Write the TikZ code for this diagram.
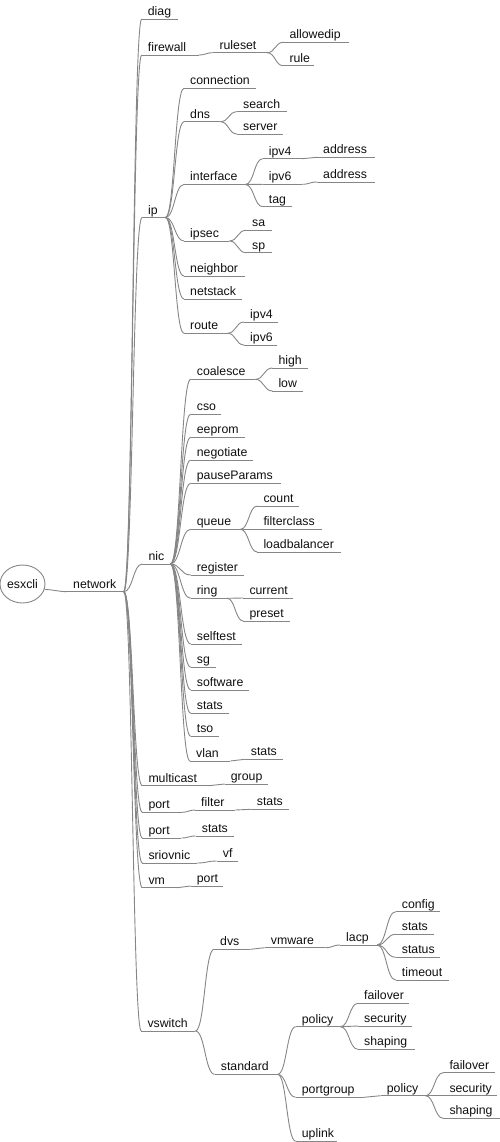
\documentclass[tikz,border=0pt]{standalone}
\usepackage{fontspec}
\setmainfont{Liberation Sans}
\usepackage{tikz}
\usetikzlibrary{shapes.geometric,calc}

\definecolor{linegray}{RGB}{134,134,134}
\definecolor{textdark}{RGB}{15,15,15}

\tikzset{
  branch/.style={draw=linegray, line width=0.9pt},
  topic/.style={anchor=south west, inner xsep=0pt, inner ysep=3.3pt, text depth=0pt,
    align=left, text=textdark, font=\fontsize{12.3}{14}\selectfont},
  rootnode/.style={ellipse, draw=linegray, line width=0.9pt, minimum width=45pt,
    minimum height=38pt, inner sep=0pt, text=textdark, font=\fontsize{12.3}{14}\selectfont}
}

% topic with underline: name, text x, line end, line y, text
\def\topicpad{6}
\newcommand{\topic}[5]{%
  \pgfmathsetmacro{\topicw}{#3-#2+\topicpad}%
  \node[topic, text width=\topicw pt] (#1) at (#2-\topicpad,#4) {\hspace*{\topicpad pt}\mbox{#5}};
  \draw[branch] (#1.south west) -- (#1.south east);}

% curved connector from parent end to child start
\newcommand{\link}[2]{%
  \draw[branch] (#1.south east) .. controls ($(#1.south east)!0.5!(#2.south west |- #1.south east)$)
    and ($(#2.south west)!0.5!(#1.south east |- #2.south west)$) .. (#2.south west);}

\begin{document}
\begin{tikzpicture}[x=1pt,y=-1pt]
    \useasboundingbox (0,0) rectangle (500,1142);

    \node[rootnode] (root) at (22.5,584) {esxcli};
    \topic{network}{73}{123.3}{591.7}{network}
    \draw[branch] (root.-14) .. controls +(8,0) and +(-8,0) .. (network.south west);

    % first level
    \topic{diag}{147.7}{177.3}{19}{diag}
    \topic{fw}{147.7}{198.3}{55}{firewall}
    \topic{ip}{148}{165}{217.5}{ip}
    \topic{nic}{148.3}{170}{564}{nic}
    \topic{mc}{148.3}{208.3}{785.7}{multicast}
    \topic{port1}{148.3}{181.7}{812.3}{port}
    \topic{port2}{148.3}{181}{838}{port}
    \topic{sriov}{148.3}{196.7}{863}{sriovnic}
    \topic{vm}{148.3}{176.7}{887.7}{vm}
    \topic{vsw}{147.3}{195}{1031}{vswitch}

    % firewall
    \topic{fw-ruleset}{219.3}{266.7}{52.7}{ruleset}
    \topic{fw-allowedip}{289.3}{348.3}{42.3}{allowedip}
    \topic{fw-rule}{289.3}{313.3}{65.7}{rule}

    % ip
    \topic{ip-conn}{190}{256}{88.3}{connection}
    \topic{ip-dns}{190}{220}{121.7}{dns}
    \topic{dns-search}{243}{287}{111.7}{search}
    \topic{dns-server}{243}{283}{134}{server}
    \topic{ip-iface}{190}{245}{184.5}{interface}
    \topic{if-ipv4}{268.7}{301.7}{158.7}{ipv4}
    \topic{if-ipv4-addr}{323}{375}{157.3}{address}
    \topic{if-ipv6}{268.7}{301.7}{184.3}{ipv6}
    \topic{if-ipv6-addr}{323}{375}{182}{address}
    \topic{if-tag}{268.7}{291.7}{206.7}{tag}
    \topic{ip-ipsec}{190}{229}{241}{ipsec}
    \topic{ipsec-sa}{252}{271.7}{230.3}{sa}
    \topic{ipsec-sp}{252}{271.7}{252.7}{sp}
    \topic{ip-neighbor}{190}{245}{276}{neighbor}
    \topic{ip-netstack}{190}{241.7}{299}{netstack}
    \topic{ip-route}{190}{227.3}{333.3}{route}
    \topic{route-ipv4}{250}{277.3}{322}{ipv4}
    \topic{route-ipv6}{250}{277}{345}{ipv6}

    % nic
    \topic{nic-coalesce}{196.7}{255}{379.3}{coalesce}
    \topic{co-high}{278.3}{307.7}{368}{high}
    \topic{co-low}{278.3}{302.7}{391}{low}
    \topic{nic-cso}{196.7}{221}{414}{cso}
    \topic{nic-eeprom}{196.7}{245}{437.3}{eeprom}
    \topic{nic-negotiate}{196.7}{252.7}{460}{negotiate}
    \topic{nic-pause}{196.7}{280.7}{483.3}{pauseParams}
    \topic{nic-queue}{196.7}{240}{529.3}{queue}
    \topic{q-count}{263.3}{299}{506}{count}
    \topic{q-filter}{263.3}{321.7}{529.3}{filterclass}
    \topic{q-lb}{263.3}{340.7}{552}{loadbalancer}
    \topic{nic-register}{196.7}{244}{575}{register}
    \topic{nic-ring}{196.7}{226.7}{598.3}{ring}
    \topic{ring-current}{249.3}{292.7}{598}{current}
    \topic{ring-preset}{249.3}{289.3}{621}{preset}
    \topic{nic-selftest}{196.7}{241.7}{644}{selftest}
    \topic{nic-sg}{196.7}{216}{667.3}{sg}
    \topic{nic-software}{196.7}{249}{690}{software}
    \topic{nic-stats}{196.7}{229}{713.3}{stats}
    \topic{nic-tso}{196.7}{219}{736.3}{tso}
    \topic{nic-vlan}{196}{230}{761}{vlan}
    \topic{vlan-stats}{250.7}{282.7}{759.3}{stats}

    % multicast, port, sriovnic, vm
    \topic{mc-group}{230.7}{267.7}{784}{group}
    \topic{p1-filter}{201}{235}{810}{filter}
    \topic{p1-stats}{256.7}{289}{809.3}{stats}
    \topic{p2-stats}{201.7}{234}{836}{stats}
    \topic{sriov-vf}{222.7}{237.7}{861}{vf}
    \topic{vm-port}{196.7}{222.7}{886}{port}

    % vswitch
    \topic{vsw-dvs}{220}{250}{949.3}{dvs}
    \topic{dvs-vmw}{270.7}{325}{947.7}{vmware}
    \topic{vmw-lacp}{346}{376.7}{945}{lacp}
    \topic{lacp-config}{401.7}{439.3}{911.7}{config}
    \topic{lacp-stats}{401.7}{433.3}{934.3}{stats}
    \topic{lacp-status}{401.7}{440}{957.3}{status}
    \topic{lacp-timeout}{401.7}{448.3}{980}{timeout}
    \topic{vsw-std}{220.7}{277.3}{1074.3}{standard}
    \topic{std-policy}{301.7}{340}{1026.7}{policy}
    \topic{pol-failover}{364}{408.3}{1003.3}{failover}
    \topic{pol-security}{364}{411.7}{1026}{security}
    \topic{pol-shaping}{364}{415}{1049.3}{shaping}
    \topic{std-pg}{301.7}{363.3}{1097.3}{portgroup}
    \topic{pg-policy}{386.7}{425}{1095.7}{policy}
    \topic{pgp-failover}{449.3}{495}{1072.7}{failover}
    \topic{pgp-security}{449.3}{496.7}{1095.7}{security}
    \topic{pgp-shaping}{449.3}{500}{1118.3}{shaping}
    \topic{std-uplink}{301.7}{336.7}{1141.2}{uplink}

    % connectors
    \foreach \from/\to in {network/diag, network/fw, network/ip, network/nic, network/mc,
        network/port1, network/port2, network/sriov, network/vm, network/vsw,
        fw/fw-ruleset, fw-ruleset/fw-allowedip, fw-ruleset/fw-rule,
        ip/ip-conn, ip/ip-dns, ip/ip-iface, ip/ip-ipsec, ip/ip-neighbor, ip/ip-netstack, ip/ip-route,
        ip-dns/dns-search, ip-dns/dns-server,
        ip-iface/if-ipv4, ip-iface/if-ipv6, ip-iface/if-tag,
        if-ipv4/if-ipv4-addr, if-ipv6/if-ipv6-addr,
        ip-ipsec/ipsec-sa, ip-ipsec/ipsec-sp, ip-route/route-ipv4, ip-route/route-ipv6}
      {\link{\from}{\to}}
    \foreach \from/\to in {nic/nic-coalesce, nic/nic-cso, nic/nic-eeprom, nic/nic-negotiate,
        nic/nic-pause, nic/nic-queue, nic/nic-register, nic/nic-ring, nic/nic-selftest,
        nic/nic-sg, nic/nic-software, nic/nic-stats, nic/nic-tso, nic/nic-vlan,
        nic-coalesce/co-high, nic-coalesce/co-low,
        nic-queue/q-count, nic-queue/q-filter, nic-queue/q-lb,
        nic-ring/ring-current, nic-ring/ring-preset, nic-vlan/vlan-stats,
        mc/mc-group, port1/p1-filter, p1-filter/p1-stats, port2/p2-stats,
        sriov/sriov-vf, vm/vm-port}
      {\link{\from}{\to}}
    \foreach \from/\to in {vsw/vsw-dvs, vsw/vsw-std, vsw-dvs/dvs-vmw, dvs-vmw/vmw-lacp,
        vmw-lacp/lacp-config, vmw-lacp/lacp-stats, vmw-lacp/lacp-status, vmw-lacp/lacp-timeout,
        vsw-std/std-policy, vsw-std/std-pg, vsw-std/std-uplink,
        std-policy/pol-failover, std-policy/pol-security, std-policy/pol-shaping,
        std-pg/pg-policy, pg-policy/pgp-failover, pg-policy/pgp-security, pg-policy/pgp-shaping}
      {\link{\from}{\to}}

\end{tikzpicture}
\end{document}
